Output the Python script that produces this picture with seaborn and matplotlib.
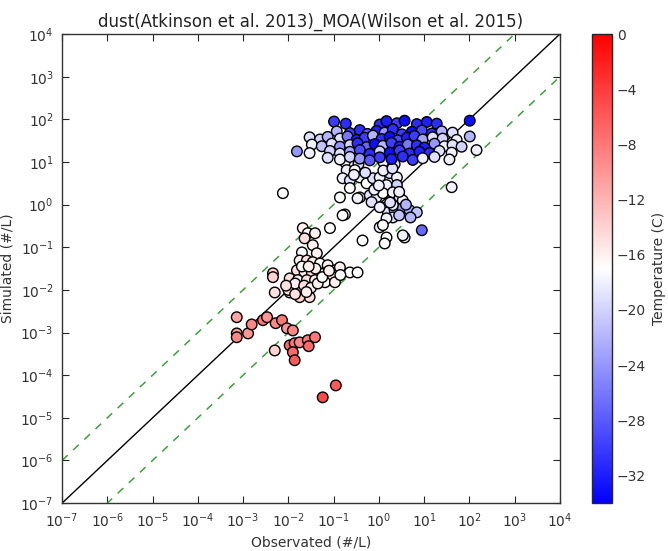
import numpy as np
import pandas as pd
import seaborn as sns
import matplotlib
matplotlib.use("Agg")
import matplotlib.pyplot as plt
from matplotlib.colors import Normalize
from matplotlib.cm import ScalarMappable
from matplotlib.ticker import LogLocator, NullLocator

# values read off the log axes as powers of ten (x = observed, y = simulated)
# warm, low concentration points
red_obs = [-3.14, -3.14, -3.14, -2.89, -2.81, -2.56, -2.47, -2.28, -2.14, -2.03, -1.90,
           -2.30, -1.97, -1.86, -1.90, -1.86, -1.75, -1.57, -1.55, -1.41, -1.24, -0.95]
red_sim = [-2.64, -3.02, -3.11, -3.02, -2.81, -2.71, -2.64, -2.78, -2.71, -2.90, -2.95,
           -3.42, -3.30, -3.25, -3.46, -3.65, -3.23, -3.18, -3.32, -3.11, -4.52, -4.24]
red_temp = [-11, -10, -9, -10, -9, -8, -10, -9, -8, -10, -9,
            -14, -7, -8, -7, -6, -9, -8, -7, -8, -5, -6]

# pale cluster around 1e-2
low_obs = [-1.68, -1.57, -1.41, -1.64, -1.46, -1.70, -1.37, -1.08, -0.75, -2.34, -2.34,
           -2.30, -1.75, -1.59, -1.46, -1.30, -1.13, -0.97, -0.86, -0.64, -0.47, -1.81,
           -1.64, -1.48, -1.30, -1.15, -1.02, -1.97, -1.79, -1.59, -1.41, -1.19, -0.97,
           -1.90, -1.70, -1.53, -1.75, -1.97, -2.00, -1.85, -1.65, -1.50, -1.35, -1.25,
           -1.10, -0.85, -1.85, -2.05, -1.60, -1.40, -1.70, -1.55]
low_sim = [-0.55, -0.67, -0.67, -0.79, -0.95, -1.12, -1.14, -0.55, -0.23, -1.61, -1.70,
           -2.06, -1.31, -1.31, -1.35, -1.38, -1.42, -1.54, -1.47, -1.59, -1.59, -1.54,
           -1.59, -1.59, -1.61, -1.66, -1.70, -1.73, -1.77, -1.77, -1.77, -1.82, -1.82,
           -1.94, -1.96, -2.17, -2.17, -2.06, -2.00, -1.85, -1.90, -1.95, -1.85, -1.70,
           -1.55, -1.65, -2.10, -1.90, -2.05, -1.50, -1.45, -1.45]
low_temp = [-16, -17, -16, -15, -16, -17, -16, -17, -17, -14, -14,
            -15, -16, -15, -16, -17, -16, -15, -16, -17, -17, -15,
            -16, -15, -16, -17, -16, -15, -16, -15, -16, -17, -16,
            -15, -16, -15, -14, -15, -15, -16, -15, -16, -16, -17,
            -16, -17, -15, -15, -16, -16, -17, -16]

# white cluster around 1
mid_obs = [-0.75, -0.45, 0.10, 0.35, -0.71, -0.53, -0.80, -0.64, -0.42, -0.27, -0.13,
           0.02, 0.24, 0.40, 0.40, 0.17, -0.64, -0.42, -0.20, -0.05, 0.09, 0.31, 0.46,
           0.53, -0.86, -0.47, -0.16, 0.17, 0.20, 0.35, 0.53, 0.68, 0.84, 0.31, 0.17,
           0.02, 0.17, -0.36, -0.80, 0.57, 0.95, 1.61, -2.12, 0.13, 0.53, 0.09, 0.02,
           0.31, -0.55, -0.30, 0.10, 0.30, -0.10, 0.25, 0.45, 0.60, 0.70, 0.45, 0.00]
mid_sim = [1.00, 0.95, 1.00, 0.95, 0.81, 0.81, 0.62, 0.57, 0.64, 0.50, 0.62,
           0.64, 0.74, 0.64, 0.46, 0.46, 0.39, 0.17, 0.22, 0.17, 0.27, 0.29, 0.17,
           0.10, 0.17, 0.15, 0.06, -0.06, -0.18, -0.13, -0.08, -0.13, -0.18, -0.30, -0.32,
           -0.53, -0.77, -0.84, -0.25, -0.77, -0.60, 0.41, 0.27, -0.91, -0.72, -0.48, -0.06,
           -0.01, 0.70, 0.75, 0.80, 0.85, 0.35, 0.05, 0.30, 0.00, -0.30, -0.25, 0.45]
mid_temp = [-18, -19, -18, -19, -18, -17, -18, -19, -18, -17, -19,
            -18, -19, -18, -20, -18, -17, -18, -19, -18, -17, -18, -19,
            -18, -17, -18, -19, -18, -19, -22, -23, -22, -21, -19, -18,
            -18, -17, -17, -17, -18, -27, -18, -17, -17, -18, -17, -18,
            -18, -18, -19, -18, -19, -18, -19, -18, -22, -22, -21, -18]

# cold, high concentration points
blue_obs = [-0.99, -0.73, 0.02, 0.17, 0.40, 0.57, 0.84, 1.06, 1.28, 2.01,
            -0.93, -0.64, -0.42, -0.25, -0.05, 0.13, 0.31, 0.51, 0.73, 0.95, 1.17, 1.39, 1.63,
            -1.53, -1.30, -1.13, -0.86, -0.69, -0.49, -0.31, -0.13, 0.06, 0.24, 0.42, 0.62,
            0.79, 0.97, 1.19, 1.41, 1.72, 2.01,
            -1.48, -1.26, -1.04, -0.86, -0.64, -0.47, -0.27, -0.09, 0.09, 0.28, 0.46, 0.64,
            0.84, 1.01, 1.23, 1.45, 1.63, 1.83,
            -1.81, -1.53, -1.08, -0.86, -0.64, -0.42, -0.20, 0.02, 0.24, 0.46, 0.68, 0.90,
            1.12, 1.34, 1.61, 2.16,
            -1.13, -0.86, -0.64, -0.42, -0.20, 0.02, 0.28, 0.53, 0.75, 0.97, 1.23, 1.56]
blue_sim = [1.95, 1.90, 1.88, 1.96, 1.91, 1.97, 1.89, 1.94, 1.90, 1.97,
            1.72, 1.68, 1.75, 1.66, 1.73, 1.69, 1.77, 1.65, 1.71, 1.74, 1.67, 1.72, 1.69,
            1.58, 1.53, 1.59, 1.55, 1.60, 1.52, 1.57, 1.62, 1.54, 1.59, 1.51, 1.57,
            1.61, 1.53, 1.58, 1.55, 1.52, 1.60,
            1.41, 1.37, 1.43, 1.36, 1.40, 1.44, 1.35, 1.42, 1.38, 1.45, 1.36, 1.41,
            1.39, 1.34, 1.43, 1.37, 1.40, 1.36,
            1.25, 1.21, 1.26, 1.20, 1.24, 1.28, 1.19, 1.25, 1.22, 1.27, 1.20, 1.24,
            1.21, 1.26, 1.22, 1.28,
            1.10, 1.06, 1.12, 1.08, 1.04, 1.11, 1.07, 1.13, 1.05, 1.09, 1.12, 1.06]
blue_temp = [-30, -31, -31, -32, -30, -33, -31, -32, -31, -33,
             -22, -30, -31, -28, -32, -24, -31, -30, -33, -29, -31, -22, -19,
             -19, -20, -22, -19, -26, -32, -30, -22, -31, -33, -29, -32,
             -30, -23, -19, -20, -18, -22,
             -18, -21, -19, -24, -20, -31, -27, -33, -22, -30, -32, -26,
             -31, -32, -24, -18, -19, -20,
             -24, -18, -20, -19, -23, -29, -31, -20, -33, -30, -31, -32,
             -31, -19, -18, -18,
             -19, -18, -20, -24, -28, -30, -32, -31, -30, -18, -19, -18]

axis_limits = [1e-7, 1e4]
cbar_ticks = [-32, -28, -24, -20, -16, -12, -8, -4, 0]

df = pd.DataFrame({
    "obs_exp": red_obs + low_obs + mid_obs + blue_obs,
    "sim_exp": red_sim + low_sim + mid_sim + blue_sim,
    "temperature": red_temp + low_temp + mid_temp + blue_temp,
})
df["observed"] = 10.0 ** df["obs_exp"]
df["simulated"] = 10.0 ** df["sim_exp"]

sns.set_style("ticks")
plt.rcParams["font.family"] = ["DejaVu Sans"]

fig = plt.figure(figsize=(6.68, 5.51), dpi=100)
ax = fig.add_axes([0.093, 0.087, 0.745, 0.851])
cax = fig.add_axes([0.886, 0.087, 0.030, 0.851])

norm = Normalize(vmin=-34, vmax=0)

# 1:1 line and factor of 10 lines
ax.plot(axis_limits, axis_limits, color="black", lw=1, zorder=1)
ax.plot(axis_limits, [v * 10 for v in axis_limits], color="#3f9f3f",
        lw=1.1, ls=(0, (5, 5)), zorder=1)
ax.plot(axis_limits, [v / 10 for v in axis_limits], color="#3f9f3f",
        lw=1.1, ls=(0, (5, 5)), zorder=1)

sns.scatterplot(data=df, x="observed", y="simulated", hue="temperature",
                palette="bwr", hue_norm=norm, s=58, edgecolor="black",
                linewidth=1, legend=False, ax=ax, zorder=3)

ax.set_xscale("log")
ax.set_yscale("log")
ax.set_xlim(axis_limits)
ax.set_ylim(axis_limits)
ax.xaxis.set_major_locator(LogLocator(base=10, numticks=20))
ax.yaxis.set_major_locator(LogLocator(base=10, numticks=20))
ax.xaxis.set_minor_locator(NullLocator())
ax.yaxis.set_minor_locator(NullLocator())
ax.tick_params(direction="in", top=True, right=True, length=5,
               labelsize=10, labelcolor="#333333", pad=6)
for sp in ax.spines.values():
    sp.set_color("#333333")
    sp.set_linewidth(1)

ax.set_title("dust(Atkinson et al. 2013)_MOA(Wilson et al. 2015)",
             fontsize=12, color="#222222", pad=5)
ax.set_xlabel("Observated (#/L)", fontsize=10, color="#333333")
ax.set_ylabel("Simulated (#/L)", fontsize=10, color="#333333")

cbar = fig.colorbar(ScalarMappable(norm=norm, cmap="bwr"), cax=cax, ticks=cbar_ticks)
cbar.ax.tick_params(direction="in", length=4, labelsize=10, labelcolor="#333333")
cbar.set_label("Temperature (C)", fontsize=10, color="#333333")
cbar.outline.set_linewidth(1)

fig.savefig("out.png", dpi=100)
